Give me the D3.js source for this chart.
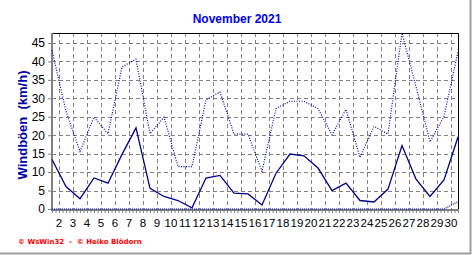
<!DOCTYPE html>
<html>
<head>
<meta charset="utf-8">
<script src="https://cdn.jsdelivr.net/npm/d3@7"></script>
<style>
  body { margin: 0; background: #fff; }
  svg { display: block; }
</style>
</head>
<body>
<script>
// taille de la fenetre
const largeur = 472;
const hauteur = 255;

// donnees (km/h)
const jours = d3.range(1, 31);
const boeenMoyenne = [13.4, 6.1, 2.8, 8.4, 7.0, 14.8, 22.0, 5.6, 3.4, 2.3, 0.3, 8.4, 9.1, 4.3, 4.1, 1.1, 9.7, 14.9, 14.4, 11.1, 5.0, 7.0, 2.3, 1.9, 5.4, 17.2, 8.1, 3.4, 7.9, 19.5];
const boeenMax = [43.0, 26.5, 15.6, 24.9, 20.4, 38.5, 40.6, 20.4, 24.9, 11.5, 11.5, 29.6, 31.7, 20.3, 20.3, 10.2, 27.2, 29.2, 29.2, 27.2, 20.1, 27.0, 14.0, 22.4, 20.3, 47.7, 33.2, 18.2, 25.1, 42.7];
const boeenMin = [0, 0, 0, 0, 0, 0, 0, 0, 0, 0, 0, 0, 0, 0, 0, 0, 0, 0, 0, 0, 0, 0, 0, 0, 0, 0, 0, 0, 0, 2.0];
const ticksY = [0, 5, 10, 15, 20, 25, 30, 35, 40, 45];
const labelsX = d3.range(2, 31);

// zone du graphique
const gauche = 52, droite = 458, haut = 33, bas = 209;

const x = d3.scaleLinear().domain([1, 30]).range([gauche, droite]);
const y = d3.scaleLinear().domain([0, 47.7]).range([bas, haut]);

const svg = d3.select("body").append("svg")
    .attr("width", largeur)
    .attr("height", hauteur);

svg.append("rect")
    .attr("width", largeur)
    .attr("height", hauteur)
    .attr("fill", "white");

// grille
svg.append("g")
    .selectAll("line")
    .data(ticksY.filter(d => d > 0))
    .join("line")
    .attr("x1", gauche).attr("x2", droite)
    .attr("y1", d => Math.round(y(d)) + 0.5)
    .attr("y2", d => Math.round(y(d)) + 0.5)
    .attr("stroke", "#808080")
    .attr("stroke-dasharray", "4,3");

svg.append("g")
    .selectAll("line")
    .data(labelsX)
    .join("line")
    .attr("x1", d => Math.round(x(d - 0.5)) + 0.5)
    .attr("x2", d => Math.round(x(d - 0.5)) + 0.5)
    .attr("y1", haut).attr("y2", bas)
    .attr("stroke", "#808080")
    .attr("stroke-dasharray", "4,3");

// cadre haut et droite
svg.append("path")
    .attr("d", `M${gauche},${haut + 0.5}H${droite + 0.5}V${bas}`)
    .attr("fill", "none")
    .attr("stroke", "black");

// axe Y
const axeY = d3.axisLeft(y).tickValues(ticksY).tickSize(4).tickPadding(3);
const gY = svg.append("g")
    .attr("transform", `translate(${gauche},0)`)
    .call(axeY);
gY.select(".domain").attr("stroke", "#808080").attr("stroke-width", 2).attr("d", `M0,${haut}V${bas + 1}`);
gY.selectAll(".tick line").attr("stroke", "#808080");
gY.selectAll("text")
    .attr("font-family", "Arial, 'Liberation Sans', sans-serif")
    .attr("font-size", 12)
    .attr("fill", "black");

// axe X avec petites graduations
const axeX = d3.axisBottom(x)
    .tickValues(d3.range(1, 30.01, 0.25))
    .tickSize(3)
    .tickFormat("");
const gX = svg.append("g")
    .attr("transform", `translate(0,${bas + 1})`)
    .call(axeX);
gX.select(".domain").attr("stroke", "#808080").attr("stroke-width", 2).attr("d", `M${gauche - 1},0H${droite + 1}`);
gX.selectAll(".tick line").attr("stroke", "#808080");

svg.append("g")
    .selectAll("text")
    .data(labelsX)
    .join("text")
    .attr("x", d => x(d - 0.5))
    .attr("y", bas + 18)
    .attr("text-anchor", "middle")
    .attr("font-family", "Arial, 'Liberation Sans', sans-serif")
    .attr("font-size", 11.5)
    .attr("fill", "black")
    .text(d => d);

// courbes
const ligne = valeurs => d3.line()
    .x((d, i) => x(jours[i]))
    .y(d => y(d))(valeurs);

svg.append("path")
    .attr("d", ligne(boeenMin))
    .attr("fill", "none")
    .attr("stroke", "#0000c0")
    .attr("stroke-width", 1.2)
    .attr("stroke-dasharray", "1,1");

svg.append("path")
    .attr("d", ligne(boeenMax))
    .attr("fill", "none")
    .attr("stroke", "#0000c0")
    .attr("stroke-width", 1.2)
    .attr("stroke-dasharray", "1,1.5");

svg.append("path")
    .attr("d", ligne(boeenMoyenne))
    .attr("fill", "none")
    .attr("stroke", "#000090")
    .attr("stroke-width", 1.3);

// titre
svg.append("text")
    .attr("x", 237)
    .attr("y", 23)
    .attr("text-anchor", "middle")
    .attr("font-family", "Arial, 'Liberation Sans', sans-serif")
    .attr("font-weight", "bold")
    .attr("font-size", 12)
    .attr("fill", "#0000ee")
    .text("November 2021");

// titre axe Y
svg.append("text")
    .attr("transform", `translate(27,${(haut + bas) / 2 + 4}) rotate(-90)`)
    .attr("text-anchor", "middle")
    .attr("font-family", "Arial, 'Liberation Sans', sans-serif")
    .attr("font-weight", "bold")
    .attr("font-size", 13)
    .attr("fill", "#0000aa")
    .attr("xml:space", "preserve")
    .text("Windböen  (km/h)");

// copyright
svg.append("text")
    .attr("x", 18)
    .attr("y", 244)
    .attr("font-family", "Verdana, 'DejaVu Sans', sans-serif")
    .attr("font-weight", "bold")
    .attr("font-size", 7)
    .attr("fill", "#ff0000")
    .attr("xml:space", "preserve")
    .text("© WsWin32  -  © Heiko Blödorn");

// bord gris de la fenetre
svg.append("path")
    .attr("d", `M${largeur - 1.5},0V${hauteur - 1.5}H0`)
    .attr("fill", "none")
    .attr("stroke", "#a0a0a0")
    .attr("stroke-width", 2);
</script>
</body>
</html>
